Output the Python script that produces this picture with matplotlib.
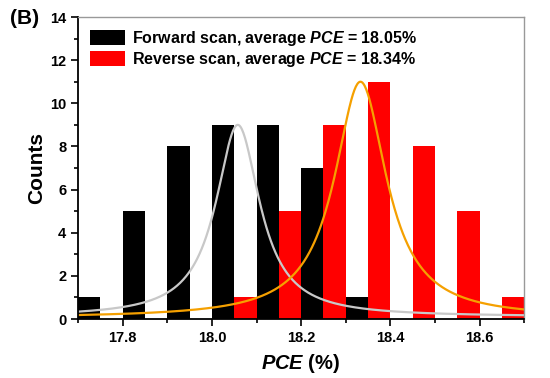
import numpy as np
import matplotlib.pyplot as plt
from matplotlib.ticker import MultipleLocator

plt.rcParams['font.family'] = ['Liberation Sans', 'DejaVu Sans']
plt.rcParams['font.weight'] = 'bold'
plt.rcParams['mathtext.fontset'] = 'custom'
plt.rcParams['mathtext.rm'] = 'Liberation Sans:bold'
plt.rcParams['mathtext.it'] = 'Liberation Sans:italic:bold'

# histogram data (left bin edges, bin width 0.05)
fwd_left = [17.70, 17.80, 17.90, 18.00, 18.10, 18.20, 18.30]
fwd_counts = [1, 5, 8, 9, 9, 7, 1]
rev_left = [18.05, 18.15, 18.25, 18.35, 18.45, 18.55, 18.65]
rev_counts = [1, 5, 9, 11, 8, 5, 1]
bin_width = 0.05

# Lorentz fit parameters: (center, half-width, peak height, baseline)
fwd_fit = (18.058, 0.06, 8.9, 0.1)
rev_fit = (18.333, 0.071, 10.95, 0.05)


def lorentz(x, xc, w, a, y0):
    return y0 + a / (1 + ((x - xc) / w) ** 2)


fig = plt.figure(figsize=(5.5, 3.78), dpi=100)
ax = fig.add_axes([0.142, 0.156, 0.811, 0.799])

ax.bar(fwd_left, fwd_counts, width=bin_width, align='edge', color='black',
       label='Forward scan, average $PCE$ = 18.05%')
ax.bar(rev_left, rev_counts, width=bin_width, align='edge', color='#ff0000',
       label='Reverse scan, average $PCE$ = 18.34%')

xs = np.linspace(17.7, 18.7, 600)
ax.plot(xs, lorentz(xs, *fwd_fit), color='#c8c8c8', lw=1.6)
ax.plot(xs, lorentz(xs, *rev_fit), color='#f5a000', lw=1.6)

ax.set_xlim(17.7, 18.7)
ax.set_ylim(0, 14)
ax.xaxis.set_major_locator(MultipleLocator(0.2))
ax.xaxis.set_minor_locator(MultipleLocator(0.1))
ax.yaxis.set_major_locator(MultipleLocator(2))
ax.yaxis.set_minor_locator(MultipleLocator(1))
ax.xaxis.set_major_formatter(plt.FormatStrFormatter('%.1f'))
ax.tick_params(which='both', direction='out', top=False, right=False,
               width=1.2, labelsize=10.5)
ax.tick_params(which='major', length=5)
ax.tick_params(which='minor', length=3)
for s in ['left', 'bottom']:
    ax.spines[s].set_linewidth(1.3)
for s in ['top', 'right']:
    ax.spines[s].set_color('#999999')
    ax.spines[s].set_linewidth(1.0)

ax.set_xlabel('$PCE$ (%)', fontsize=14.5, fontweight='bold', labelpad=5)
ax.set_ylabel('Counts', fontsize=15, fontweight='bold', labelpad=3)

ax.legend(loc='upper left', frameon=False, fontsize=11.5, handlelength=2.2,
          handleheight=1.1, labelspacing=0.12, handletextpad=0.4,
          borderaxespad=0.3, borderpad=0.45)

fig.text(0.018, 0.952, '(B)', fontsize=15, fontweight='bold', va='center')

fig.savefig('out.png', dpi=100)
